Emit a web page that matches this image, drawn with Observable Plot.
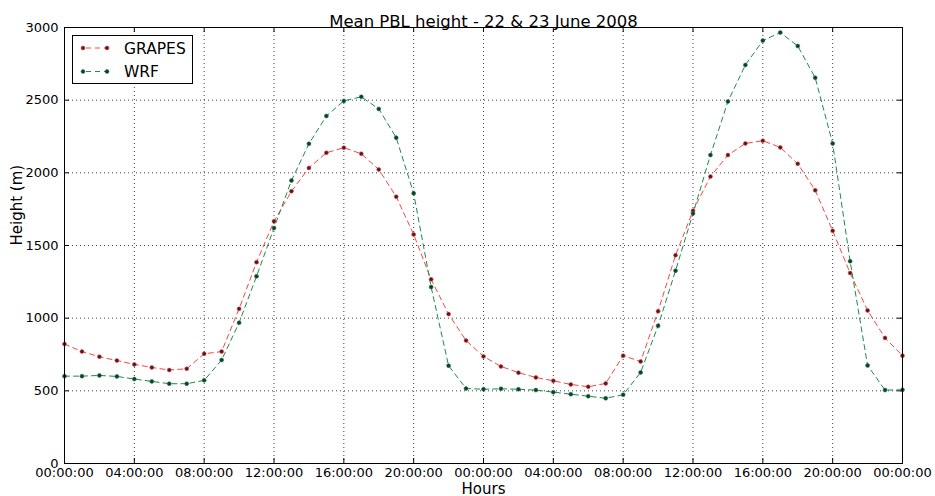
<!DOCTYPE html>
<html>
<head>
<meta charset="utf-8">
<script src="https://cdn.jsdelivr.net/npm/d3@7"></script>
<script src="https://cdn.jsdelivr.net/npm/@observablehq/plot@0.6"></script>
<style>
  html, body { margin: 0; padding: 0; background: #fff; }
  #chart { position: relative; width: 935px; height: 496px; }
</style>
</head>
<body>
<div id="chart"></div>
<script>
const title = "Mean PBL height - 22 & 23 June 2008";
const xLabel = "Hours";
const yLabel = "Height (m)";
const seriesNames = ["GRAPES", "WRF"];

const hours = [0,1,2,3,4,5,6,7,8,9,10,11,12,13,14,15,16,17,18,19,20,21,22,23,24,
               25,26,27,28,29,30,31,32,33,34,35,36,37,38,39,40,41,42,43,44,45,46,47,48];

const grapes = [822, 770, 735, 708, 682, 661, 643, 652, 755, 770, 1064, 1385, 1666,
                1873, 2034, 2138, 2173, 2131, 2023, 1836, 1576, 1267, 1028, 846, 737,
                668, 625, 592, 569, 544, 528, 551, 742, 702, 1048, 1433, 1739,
                1974, 2122, 2202, 2221, 2175, 2062, 1880, 1601, 1311, 1053, 864, 742];

const wrf = [601, 601, 606, 599, 581, 565, 549, 549, 572, 712, 968, 1288, 1620,
             1947, 2200, 2391, 2495, 2523, 2440, 2242, 1859, 1214, 673, 516, 511,
             514, 511, 505, 491, 477, 463, 449, 473, 627, 947, 1327, 1721,
             2122, 2491, 2742, 2910, 2965, 2873, 2654, 2202, 1392, 675, 505, 507];

const xTicks = [0, 4, 8, 12, 16, 20, 24, 28, 32, 36, 40, 44, 48];
const xTickLabels = ["00:00:00","04:00:00","08:00:00","12:00:00","16:00:00","20:00:00",
                     "00:00:00","04:00:00","08:00:00","12:00:00","16:00:00","20:00:00","00:00:00"];
const yTicks = [0, 500, 1000, 1500, 2000, 2500, 3000];

const colors = { GRAPES: "#f84444", WRF: "#1e8a4c" };
const markFill = { GRAPES: "#4a1c1c", WRF: "#17382a" };

const rows = [];
hours.forEach((h, i) => {
  rows.push({ series: "GRAPES", h, v: grapes[i] });
  rows.push({ series: "WRF", h, v: wrf[i] });
});

const W = 935, H = 496;
const mL = 64, mR = 33, mT = 27, mB = 33;
const frameW = W - mL - mR, frameH = H - mT - mB;
const font = "DejaVu Sans, sans-serif";

const plot = Plot.plot({
  width: W,
  height: H,
  marginLeft: mL,
  marginRight: mR,
  marginTop: mT,
  marginBottom: mB,
  style: { fontFamily: font, background: "white", color: "black" },
  x: { domain: [0, 48], label: null },
  y: { domain: [0, 3000], label: null },
  marks: [
    Plot.ruleX(xTicks, { x: d => d, stroke: "#000", strokeOpacity: 0.75, strokeDasharray: "1,3" }),
    Plot.ruleY(yTicks, { y: d => d, stroke: "#000", strokeOpacity: 0.75, strokeDasharray: "1,3" }),
    Plot.ruleX(xTicks, { x: d => d, stroke: "#000", insetTop: frameH - 5 }),
    Plot.ruleX(xTicks, { x: d => d, stroke: "#000", insetBottom: frameH - 5 }),
    Plot.ruleY(yTicks, { y: d => d, stroke: "#000", insetRight: frameW - 5 }),
    Plot.ruleY(yTicks, { y: d => d, stroke: "#000", insetLeft: frameW - 5 }),
    Plot.line(rows, { x: "h", y: "v", z: "series", stroke: d => colors[d.series], strokeWidth: 1, strokeDasharray: "5,4" }),
    Plot.dot(rows, { x: "h", y: "v", r: 2, fill: d => markFill[d.series], stroke: d => colors[d.series], strokeWidth: 0.6 }),
    Plot.frame({ stroke: "#000", strokeWidth: 1 }),
    Plot.axisX({ ticks: xTicks, tickFormat: d => xTickLabels[xTicks.indexOf(d)], tickSize: 0, tickPadding: 4, fontSize: 13, label: null }),
    Plot.axisY({ ticks: yTicks, tickFormat: d => String(d), tickSize: 0, tickPadding: 6, fontSize: 13, label: null }),
    Plot.text([title], { frameAnchor: "top", dy: -12, fontSize: 16.5, fill: "#000" }),
    Plot.text([xLabel], { frameAnchor: "bottom", dy: 30, fontSize: 15, fill: "#000" }),
    Plot.text([yLabel], { frameAnchor: "left", dx: -47, rotate: -90, fontSize: 15, fill: "#000" })
  ]
});

document.getElementById("chart").appendChild(plot);

// Legend inside the plot frame
const svg = d3.select(plot);
const lg = svg.append("g").attr("font-family", font).attr("text-anchor", "start");
lg.append("rect").attr("x", 72.5).attr("y", 35.5).attr("width", 120).attr("height", 48)
  .attr("fill", "white").attr("stroke", "black").attr("stroke-width", 1);
seriesNames.forEach((name, i) => {
  const y = 48 + i * 23.5;
  lg.append("line").attr("x1", 83).attr("x2", 107).attr("y1", y).attr("y2", y)
    .attr("stroke", colors[name]).attr("stroke-width", 1).attr("stroke-dasharray", "5,4")
    .attr("stroke-dashoffset", -3);
  [83, 107].forEach(cx => {
    lg.append("circle").attr("cx", cx).attr("cy", y).attr("r", 2)
      .attr("fill", markFill[name]).attr("stroke", colors[name]).attr("stroke-width", 0.6);
  });
  lg.append("text").attr("x", 124).attr("y", y).attr("dy", "0.36em")
    .attr("text-anchor", "start")
    .attr("font-size", 15.5).attr("fill", "black").text(name);
});
</script>
</body>
</html>
